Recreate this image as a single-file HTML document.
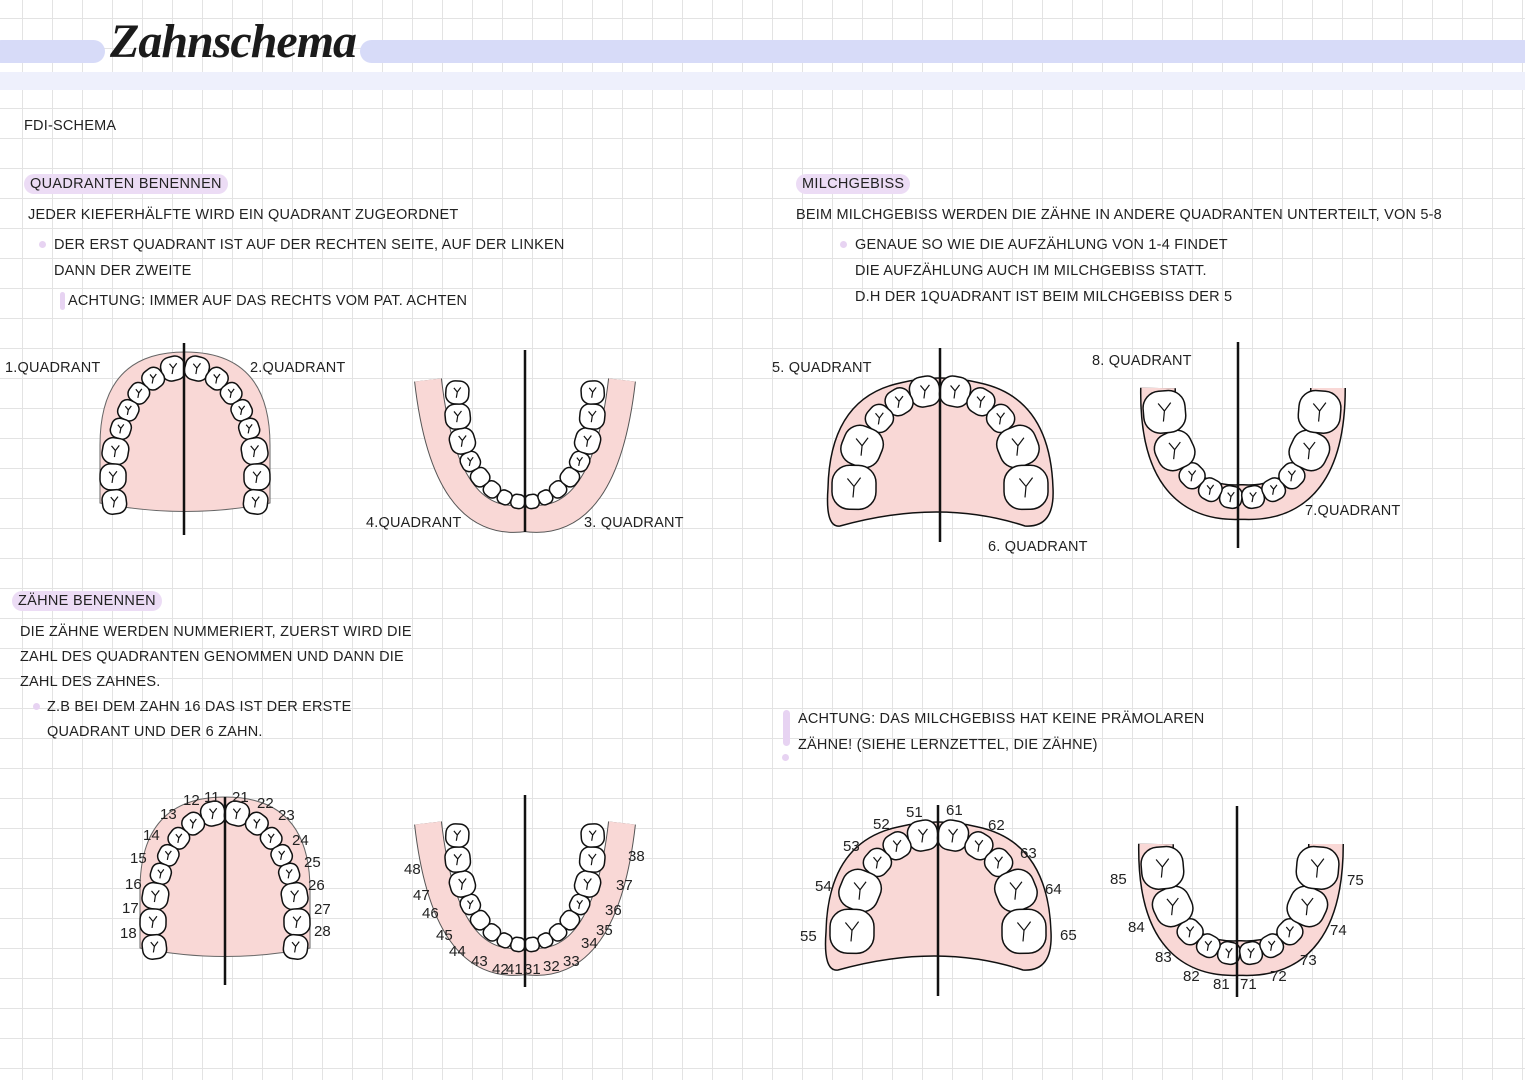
<!DOCTYPE html>
<html><head><meta charset="utf-8">
<style>
html,body{margin:0;padding:0;}
body{width:1525px;height:1080px;overflow:hidden;background:#fff;
background-image:linear-gradient(#e3e3e3 1px,transparent 1px),linear-gradient(90deg,#e3e3e3 1px,transparent 1px);
background-size:30px 30px;background-position:22px 18px;position:relative;
font-family:"Liberation Sans",sans-serif;color:#222;}
.t{position:absolute;font-size:14.5px;letter-spacing:0.2px;white-space:nowrap;line-height:26px;z-index:2;}
.h{position:absolute;font-size:14.5px;letter-spacing:0.3px;background:#ecdcf5;border-radius:10px;padding:0 6px;line-height:20px;z-index:2;}
.bar1{position:absolute;top:40px;height:23px;background:#d7dbf8;border-radius:12px;}
.bar2{position:absolute;top:72px;height:18px;left:0;width:1525px;background:#eef0fc;}
.title{position:absolute;left:110px;top:14px;font-family:"Liberation Serif",serif;font-style:italic;font-weight:bold;font-size:48px;color:#1b1b1b;letter-spacing:-1px;z-index:2;}
.dot{position:absolute;width:7px;height:7px;border-radius:50%;background:#e7d3f2;z-index:2;}
svg{position:absolute;left:0;top:0;z-index:1;}
</style></head><body>
<div class="bar2"></div>
<div class="bar1" style="left:-10px;width:115px"></div>
<div class="bar1" style="left:360px;width:1175px"></div>
<div class="title">Zahnschema</div>

<div class="t" style="left:24px;top:113px">FDI-SCHEMA</div>
<div class="h" style="left:24px;top:174px">QUADRANTEN BENENNEN</div>
<div class="t" style="left:28px;top:202px">JEDER KIEFERHÄLFTE WIRD EIN QUADRANT ZUGEORDNET</div>
<div class="dot" style="left:39px;top:241px"></div>
<div class="t" style="left:54px;top:232px">DER ERST QUADRANT IST AUF DER RECHTEN SEITE, AUF DER LINKEN</div>
<div class="t" style="left:54px;top:258px">DANN DER ZWEITE</div>
<div style="position:absolute;left:60px;top:292px;width:5px;height:18px;border-radius:3px;background:#e7d3f2"></div>
<div class="t" style="left:68px;top:288px">ACHTUNG: IMMER AUF DAS RECHTS VOM PAT. ACHTEN</div>

<div class="h" style="left:796px;top:174px">MILCHGEBISS</div>
<div class="t" style="left:796px;top:202px">BEIM MILCHGEBISS WERDEN DIE ZÄHNE IN ANDERE QUADRANTEN UNTERTEILT, VON 5-8</div>
<div class="dot" style="left:840px;top:241px"></div>
<div class="t" style="left:855px;top:232px">GENAUE SO WIE DIE AUFZÄHLUNG VON 1-4 FINDET</div>
<div class="t" style="left:855px;top:258px">DIE AUFZÄHLUNG AUCH IM MILCHGEBISS STATT.</div>
<div class="t" style="left:855px;top:284px">D.H DER 1QUADRANT IST BEIM MILCHGEBISS DER 5</div>

<div class="t" style="left:5px;top:355px">1.QUADRANT</div>
<div class="t" style="left:250px;top:355px">2.QUADRANT</div>
<div class="t" style="left:366px;top:510px">4.QUADRANT</div>
<div class="t" style="left:584px;top:510px">3. QUADRANT</div>
<div class="t" style="left:772px;top:355px">5. QUADRANT</div>
<div class="t" style="left:1092px;top:348px">8. QUADRANT</div>
<div class="t" style="left:988px;top:534px">6. QUADRANT</div>
<div class="t" style="left:1305px;top:498px">7.QUADRANT</div>

<div class="h" style="left:12px;top:591px">ZÄHNE BENENNEN</div>
<div class="t" style="left:20px;top:619px">DIE ZÄHNE WERDEN NUMMERIERT, ZUERST WIRD DIE</div>
<div class="t" style="left:20px;top:644px">ZAHL DES QUADRANTEN GENOMMEN UND DANN DIE</div>
<div class="t" style="left:20px;top:669px">ZAHL DES ZAHNES.</div>
<div class="dot" style="left:33px;top:703px"></div>
<div class="t" style="left:47px;top:694px">Z.B BEI DEM ZAHN 16 DAS IST DER ERSTE</div>
<div class="t" style="left:47px;top:719px">QUADRANT UND DER 6 ZAHN.</div>

<div style="position:absolute;left:783px;top:710px;width:7px;height:36px;border-radius:4px;background:#e7d3f2"></div>
<div class="dot" style="left:782px;top:754px"></div>
<div class="t" style="left:798px;top:706px">ACHTUNG: DAS MILCHGEBISS HAT KEINE PRÄMOLAREN</div>
<div class="t" style="left:798px;top:732px">ZÄHNE! (SIEHE LERNZETTEL, DIE ZÄHNE)</div>

<svg id="s" width="1525" height="1080" xmlns="http://www.w3.org/2000/svg" font-family="Liberation Sans, sans-serif" font-size="15" fill="#222"></svg>
<script>
var S=document.getElementById('s'),NS='http://www.w3.org/2000/svg';
function el(n,a,p){var e=document.createElementNS(NS,n);for(var k in a)e.setAttribute(k,a[k]);(p||S).appendChild(e);return e;}
function teeth(g,cx,cy,rx,ry,sizes,upper){
 [-1,1].forEach(function(sg){
  var pts=[],len=0,px=0,py=-ry,t;
  for(t=0;t<=2.6;t+=0.002){var x=rx*Math.sin(t),y=-ry*Math.cos(t);len+=Math.hypot(x-px,y-py);px=x;py=y;pts.push([t,len]);}
  var acc=0;
  sizes.forEach(function(s){var target=acc+s/2;acc+=s;
   var tt=2.6;for(var i=0;i<pts.length;i++){if(pts[i][1]>=target){tt=pts[i][0];break;}}
   var x=cx+sg*rx*Math.sin(tt),y=upper?cy-ry*Math.cos(tt):cy+ry*Math.cos(tt);
   var dx=sg*rx*Math.cos(tt),dy=(upper?1:-1)*ry*Math.sin(tt);
   var ang=Math.atan2(dy,dx)*180/Math.PI;
   el('rect',{x:x-s*0.5,y:y-s*0.5,width:s,height:s,rx:s*0.4,fill:'#fff',stroke:'#111','stroke-width':1.5,transform:'rotate('+ang+' '+x+' '+y+')'},g);
   if(s>18)el('path',{d:'M'+(x-s*0.15)+' '+(y-s*0.2)+' l'+(s*0.15)+' '+(s*0.18)+' l'+(s*0.15)+' -'+(s*0.2)+' M'+x+' '+(y-s*0.02)+' l-1 '+(s*0.25),fill:'none',stroke:'#111','stroke-width':1.2},g);
  });});
}
function line(x,y1,y2){el('line',{x1:x,y1:y1,x2:x,y2:y2,stroke:'#111','stroke-width':2.5});}
function upperPerm(cx,top){
 var g=el('g',{});
 el('path',{d:'M'+(cx-85)+' '+(top+148)+' L'+(cx-85)+' '+(top+90)+' Q'+(cx-85)+' '+(top-3)+' '+cx+' '+(top-3)+' Q'+(cx+85)+' '+(top-3)+' '+(cx+85)+' '+(top+90)+' L'+(cx+85)+' '+(top+148)+' Q'+cx+' '+(top+165)+' '+(cx-85)+' '+(top+148)+'Z',fill:'#f9d8d6',stroke:'#666','stroke-width':1},g);
 teeth(g,cx,top+125,72,113,[24,21,20,20,20,26,26,24],true);
}
function lowerPerm(cx,top){
 var g=el('g',{});
 var d='M'+(cx-97)+' '+top+' Q'+(cx-80)+' '+(top+150)+' '+cx+' '+(top+138)+' Q'+(cx+80)+' '+(top+150)+' '+(cx+97)+' '+top;
 el('path',{d:d,fill:'none',stroke:'#555','stroke-width':28},g);
 el('path',{d:d,fill:'none',stroke:'#f9d8d6','stroke-width':26},g);
 teeth(g,cx,top+22,68,100,[14,14,16,18,19,25,25,23],false);
}
function upperMilk(cx,top){
 var g=el('g',{});
 el('path',{d:'M'+(cx-112)+' '+(top+110)+' Q'+(cx-110)+' '+(top+20)+' '+(cx-40)+' '+(top+5)+' Q'+cx+' '+(top-5)+' '+(cx+40)+' '+(top+5)+' Q'+(cx+110)+' '+(top+20)+' '+(cx+113)+' '+(top+110)+' Q'+(cx+115)+' '+(top+150)+' '+(cx+85)+' '+(top+148)+' Q'+cx+' '+(top+120)+' '+(cx-100)+' '+(top+148)+' Q'+(cx-115)+' '+(top+150)+' '+(cx-112)+' '+(top+110)+'Z',fill:'#f9d8d6',stroke:'#111','stroke-width':1.5},g);
 teeth(g,cx,top+110,86,98,[30,26,26,40,44],true);
}
function lowerMilk(cx,top){
 var g=el('g',{});
 var d='M'+(cx-84)+' '+(top-4)+' Q'+(cx-86)+' '+(top+115)+' '+cx+' '+(top+110)+' Q'+(cx+86)+' '+(top+115)+' '+(cx+86)+' '+(top-4);
 el('path',{d:d,fill:'none',stroke:'#111','stroke-width':36,'stroke-linejoin':'round'},g);
 el('path',{d:d,fill:'none',stroke:'#f9d8d6','stroke-width':33},g);
 teeth(g,cx,top+10,78,96,[22,22,24,38,42],false);
}
upperPerm(185,355);line(184,343,535);
lowerPerm(525,380);line(525,350,532);
upperMilk(940,378);line(940,348,542);
lowerMilk(1242,392);line(1238,342,548);
upperPerm(225,800);line(225,797,985);
lowerPerm(525,823);line(525,795,987);
upperMilk(938,822);line(938,805,996);
lowerMilk(1240,848);line(1237,806,997);
var L=[[183,805,'12'],[204,802,'11'],[232,802,'21'],[257,808,'22'],[278,820,'23'],[160,819,'13'],[143,840,'14'],[130,863,'15'],[125,889,'16'],[122,913,'17'],[120,938,'18'],[292,845,'24'],[304,867,'25'],[308,890,'26'],[314,914,'27'],[314,936,'28'],
[404,874,'48'],[413,900,'47'],[422,918,'46'],[436,940,'45'],[449,956,'44'],[471,966,'43'],[492,974,'42'],[506,974,'41'],[524,974,'31'],[543,971,'32'],[563,966,'33'],[581,948,'34'],[596,935,'35'],[605,915,'36'],[616,890,'37'],[628,861,'38'],
[906,817,'51'],[946,815,'61'],[873,829,'52'],[988,830,'62'],[843,851,'53'],[1020,858,'63'],[815,891,'54'],[1045,894,'64'],[800,941,'55'],[1060,940,'65'],
[1110,884,'85'],[1128,932,'84'],[1155,962,'83'],[1183,981,'82'],[1213,989,'81'],[1240,989,'71'],[1270,981,'72'],[1300,965,'73'],[1330,935,'74'],[1347,885,'75']];
L.forEach(function(a){var t=el('text',{x:a[0],y:a[1]});t.textContent=a[2];});
</script>
</body></html>
